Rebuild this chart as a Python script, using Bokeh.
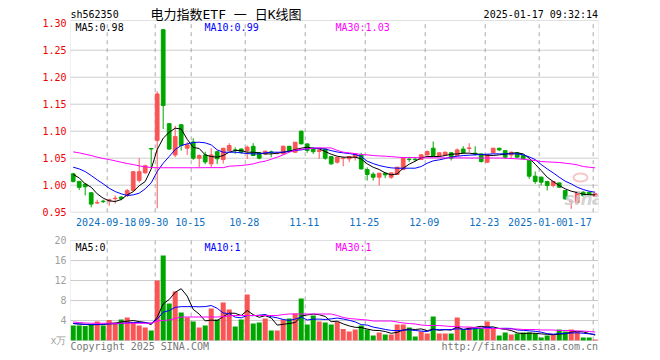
from bokeh.plotting import figure
from bokeh.layouts import column
from bokeh.models import (ColumnDataSource, FixedTicker, Label, Range1d,
                          PrintfTickFormatter, BoxAnnotation)
from bokeh.embed import file_html
from bokeh.resources import INLINE

# ---------------- data ----------------
open_ = [
    1.021, 1.007, 1.002, 0.986, 0.967, 0.9705, 0.971, 0.975, 0.978, 0.981,
    0.990, 1.009, 1.023, 1.068, 1.083, 1.288, 1.114, 1.056, 1.112, 1.0685,
    1.080, 1.050, 1.056, 1.0395, 1.062, 1.0475, 1.064, 1.0654, 1.067, 1.064,
    1.072, 1.060, 1.058, 1.0615, 1.0585, 1.058, 1.072, 1.061, 1.100, 1.0765,
    1.068, 1.0625, 1.067, 1.053, 1.0426, 1.0494, 1.0488, 1.052, 1.056, 1.029,
    1.0204, 1.0148, 1.0222, 1.0148, 1.0198, 1.029, 1.048, 1.0478, 1.0475, 1.056,
    1.0685, 1.055, 1.056, 1.060, 1.055, 1.067, 1.068, 1.0593, 1.058, 1.0426,
    1.060, 1.0685, 1.064, 1.056, 1.060, 1.055, 1.0457, 1.0167, 1.0148, 1.0068,
    0.9994, 1.0043, 0.990, 0.9694, 0.9673, 0.987, 0.987, 0.9796]
high = [
    1.023, 1.008, 1.004, 0.987, 0.973, 0.973, 0.975, 0.981, 0.980, 0.993,
    1.026, 1.050, 1.038, 1.069, 1.174, 1.289, 1.115, 1.110, 1.113, 1.0796,
    1.087, 1.057, 1.062, 1.0685, 1.064, 1.069, 1.0778, 1.070, 1.068, 1.0735,
    1.0778, 1.061, 1.0635, 1.064, 1.061, 1.073, 1.073, 1.080, 1.101, 1.077,
    1.070, 1.066, 1.068, 1.054, 1.052, 1.053, 1.054, 1.059, 1.060, 1.033,
    1.024, 1.023, 1.023, 1.0235, 1.034, 1.050, 1.0525, 1.052, 1.057, 1.0642,
    1.0809, 1.061, 1.062, 1.061, 1.068, 1.0722, 1.0778, 1.0722, 1.059, 1.057,
    1.069, 1.069, 1.065, 1.062, 1.061, 1.056, 1.046, 1.0253, 1.016, 1.008,
    1.007, 1.005, 0.991, 0.9716, 0.988, 0.989, 0.988, 0.985]
low = [
    1.005, 0.991, 0.981, 0.959, 0.965, 0.967, 0.962, 0.966, 0.972, 0.978,
    0.989, 1.005, 1.021, 1.033, 0.957, 1.104, 1.065, 1.052, 1.064, 1.056,
    1.047, 1.033, 1.039, 1.0333, 1.0395, 1.040, 1.063, 1.058, 1.058, 1.0488,
    1.054, 1.048, 1.056, 1.052, 1.057, 1.056, 1.061, 1.060, 1.076, 1.060,
    1.058, 1.0488, 1.047, 1.038, 1.040, 1.035, 1.0426, 1.0457, 1.029, 1.0086,
    1.0086, 0.9994, 1.013, 1.0117, 1.019, 1.028, 1.043, 1.044, 1.047, 1.055,
    1.054, 1.054, 1.055, 1.0457, 1.054, 1.058, 1.061, 1.055, 1.042, 1.041,
    1.059, 1.063, 1.0488, 1.0488, 1.051, 1.048, 1.0117, 1.0025, 0.9994, 0.9901,
    0.996, 0.995, 0.973, 0.9562, 0.967, 0.978, 0.980, 0.979]
close = [
    1.007, 0.996, 0.997, 0.965, 0.968, 0.9695, 0.973, 0.976, 0.975, 0.990,
    1.025, 1.025, 1.036, 1.067, 1.169, 1.1475, 1.067, 1.090, 1.0735, 1.0747,
    1.050, 1.055, 1.043, 1.056, 1.0488, 1.0685, 1.0735, 1.0648, 1.061, 1.0704,
    1.055, 1.050, 1.063, 1.061, 1.059, 1.0722, 1.0623, 1.0796, 1.0765, 1.0642,
    1.062, 1.065, 1.050, 1.0395, 1.0519, 1.050, 1.0531, 1.058, 1.0302, 1.0198,
    1.0148, 1.0222, 1.0191, 1.0228, 1.0333, 1.050, 1.0475, 1.0472, 1.0562, 1.0623,
    1.055, 1.0599, 1.0611, 1.050, 1.0654, 1.0599, 1.0691, 1.0574, 1.0438, 1.0562,
    1.0685, 1.0654, 1.0519, 1.0611, 1.0519, 1.0488, 1.0167, 1.0068, 1.0056, 0.9994,
    1.0068, 0.9963, 0.9747, 0.9698, 0.987, 0.9809, 0.982, 0.984]
ma5 = [
    1.0198, 1.0136, 1.0025, 0.9963, 0.984, 0.976, 0.971, 0.9698, 0.9735, 0.982,
    0.988, 0.999, 1.0068, 1.030, 1.066, 1.087, 1.098, 1.1056, 1.104, 1.085,
    1.070, 1.068, 1.0562, 1.0531, 1.0519, 1.055, 1.0611, 1.0642, 1.0642, 1.0611,
    1.0611, 1.0599, 1.058, 1.058, 1.0593, 1.0611, 1.063, 1.066, 1.0685, 1.0704,
    1.0685, 1.0673, 1.0623, 1.0574, 1.0537, 1.0519, 1.0519, 1.0519, 1.0488, 1.0395,
    1.0333, 1.029, 1.0228, 1.0191, 1.021, 1.0315, 1.0389, 1.0444, 1.0506, 1.0531,
    1.0531, 1.0531, 1.055, 1.0574, 1.058, 1.0593, 1.0593, 1.058, 1.0568, 1.0556,
    1.055, 1.0562, 1.0574, 1.0593, 1.0599, 1.058, 1.050, 1.0389, 1.0272, 1.0148,
    1.0068, 0.9994, 0.9932, 0.9889, 0.9864, 0.9833, 0.9821, 0.9821]
ma10 = [
    1.0333, 1.0302, 1.0253, 1.0179, 1.0099, 1.0025, 0.9944, 0.9883, 0.984, 0.9809,
    0.982, 0.9852, 0.9932, 1.0043, 1.0253, 1.0407, 1.0531, 1.066, 1.0735, 1.0765,
    1.079, 1.0796, 1.0784, 1.0747, 1.0654, 1.0611, 1.0611, 1.0611, 1.0599, 1.0586,
    1.058, 1.058, 1.0599, 1.0611, 1.0611, 1.0611, 1.0623, 1.0642, 1.0654, 1.0673,
    1.0685, 1.0685, 1.067, 1.064, 1.0615, 1.0599, 1.0586, 1.0568, 1.0531, 1.0445,
    1.040, 1.0364, 1.034, 1.0321, 1.0315, 1.0315, 1.0315, 1.0315, 1.0346, 1.0407,
    1.0451, 1.0469, 1.0494, 1.0519, 1.0537, 1.0549, 1.0556, 1.0562, 1.0568, 1.0574,
    1.058, 1.058, 1.058, 1.058, 1.058, 1.0562, 1.0525, 1.0475, 1.0383, 1.0302,
    1.0228, 1.0148, 1.0074, 1.0025, 0.9963, 0.992, 0.9889, 0.987]
ma30 = [
    1.0617, 1.0599, 1.0574, 1.055, 1.0519, 1.0494, 1.0475, 1.0451, 1.0426, 1.0401,
    1.0383, 1.0358, 1.034, 1.0327, 1.0323, 1.0323, 1.0323, 1.0323, 1.0323, 1.0323,
    1.0323, 1.0323, 1.0325, 1.0325, 1.0325, 1.0325, 1.0352, 1.0358, 1.0364, 1.0377,
    1.0395, 1.0426, 1.0444, 1.0481, 1.0519, 1.0562, 1.0611, 1.0648, 1.0667, 1.0673,
    1.0685, 1.0691, 1.0691, 1.069, 1.0645, 1.0611, 1.0599, 1.0586, 1.0568, 1.0562,
    1.0549, 1.0543, 1.0537, 1.053, 1.0519, 1.0512, 1.0512, 1.0512, 1.0506, 1.0506,
    1.0506, 1.0506, 1.0506, 1.0506, 1.0506, 1.0506, 1.0503, 1.0503, 1.0503, 1.0503,
    1.0503, 1.0503, 1.050, 1.0494, 1.0488, 1.0481, 1.0469, 1.0457, 1.0438, 1.0432,
    1.0426, 1.042, 1.0407, 1.0395, 1.0377, 1.0346, 1.0333, 1.0321]
volume = [
    3.0, 3.0, 2.9, 3.2, 3.8, 3.0, 4.1, 3.4, 4.2, 4.6,
    3.7, 3.0, 2.6, 2.0, 12.0, 17.0, 7.4, 9.8, 5.6, 4.6,
    3.8, 2.6, 3.0, 6.4, 4.2, 7.6, 6.2, 2.8, 4.2, 9.2,
    3.4, 3.6, 4.4, 2.0, 2.0, 4.2, 4.4, 5.4, 8.4, 3.2,
    5.0, 3.8, 3.6, 3.2, 3.7, 2.3, 1.8, 2.2, 3.0, 2.2,
    1.0, 1.6, 1.2, 1.2, 3.2, 3.2, 2.6, 0.8, 1.8, 1.4,
    4.8, 1.4, 1.4, 1.4, 4.6, 2.2, 2.6, 2.4, 2.4, 3.8,
    2.4, 1.0, 1.6, 1.2, 1.4, 1.6, 1.6, 1.4, 0.6, 1.0,
    1.2, 2.2, 1.8, 2.2, 1.8, 0.6, 0.6, 0.2]
vol_ma5 = [
    3.4, 3.3, 3.2, 3.15, 3.18, 3.18, 3.4, 3.5, 3.7, 3.86,
    4.0, 3.78, 3.62, 3.18, 4.66, 7.32, 8.2, 9.64, 10.36, 8.88,
    6.24, 5.28, 3.92, 4.08, 4.0, 4.76, 5.48, 5.44, 5.0, 6.0,
    5.16, 4.64, 4.96, 4.52, 3.08, 3.24, 3.4, 3.6, 4.88, 5.12,
    5.28, 5.16, 4.8, 3.76, 3.86, 3.32, 2.92, 2.64, 2.6, 2.3,
    2.04, 2.0, 1.8, 1.44, 1.64, 2.08, 2.28, 2.2, 2.32, 1.96,
    2.28, 2.04, 2.16, 2.08, 2.72, 2.2, 2.44, 2.64, 2.84, 2.68,
    2.72, 2.4, 2.24, 2.0, 1.52, 1.36, 1.48, 1.44, 1.32, 1.24,
    1.16, 1.28, 1.36, 1.68, 1.84, 1.72, 1.4, 1.08]
vol_ma10 = [
    3.4, 3.3, 3.25, 3.2, 3.2, 3.25, 3.3, 3.35, 3.4, 3.52,
    3.59, 3.59, 3.56, 3.44, 4.26, 5.66, 5.99, 6.63, 6.77, 6.77,
    6.78, 6.74, 6.78, 7.0, 6.44, 5.5, 5.38, 4.68, 4.54, 5.0,
    4.96, 5.06, 5.2, 4.76, 4.54, 4.2, 4.02, 4.28, 4.7, 4.1,
    4.26, 4.28, 4.2, 4.32, 4.49, 4.3, 4.04, 3.72, 3.18, 3.08,
    2.68, 2.46, 2.22, 2.02, 1.97, 2.06, 2.14, 2.0, 1.88, 1.8,
    2.18, 2.16, 2.18, 2.2, 2.34, 2.24, 2.24, 2.4, 2.46, 2.7,
    2.46, 2.42, 2.44, 2.42, 2.1, 2.04, 1.94, 1.84, 1.66, 1.38,
    1.26, 1.38, 1.4, 1.5, 1.54, 1.44, 1.34, 1.22]
vol_ma30 = [
    3.7, 3.6, 3.5, 3.45, 3.45, 3.45, 3.45, 3.45, 3.45, 3.45,
    3.45, 3.45, 3.45, 3.45, 3.9, 4.0, 4.1, 4.4, 4.7, 4.7,
    4.7, 4.7, 4.7, 4.7, 4.7, 4.8, 4.9, 5.0, 5.0, 5.0,
    5.0, 5.0, 5.0, 5.0, 5.0, 5.2, 5.3, 5.3, 5.3, 5.3,
    5.3, 5.3, 5.3, 5.3, 5.0, 4.6, 4.4, 4.3, 4.2, 4.1,
    3.9, 3.9, 3.9, 3.9, 3.7, 3.5, 3.4, 3.3, 3.1, 3.0,
    3.0, 3.0, 2.9, 2.8, 2.8, 2.7, 2.7, 2.6, 2.5, 2.4,
    2.4, 2.4, 2.3, 2.3, 2.3, 2.2, 2.2, 2.2, 2.1, 2.1,
    2.1, 2.0, 2.0, 2.0, 1.9, 1.9, 1.8, 1.7]

date_tick_index = [6, 14, 20, 29, 39, 49, 59, 69, 78, 87]
date_tick_labels = ["2024-09-18", "09-30", "10-15", "10-28", "11-11",
                    "11-25", "12-09", "12-23", "2025-01-06", "01-17"]
price_ticks = [0.95, 1.00, 1.05, 1.10, 1.15, 1.20, 1.25, 1.30]
price_grid = [1.00, 1.05, 1.10, 1.15, 1.20, 1.25]
vol_ticks = [0, 4, 8, 12, 16, 20]
vol_grid = [4, 8, 12, 16]

code_text = "sh562350"
title_text = "电力指数ETF 一 日K线图"
time_text = "2025-01-17 09:32:14"
price_ma_texts = ["MA5:0.98", "MA10:0.99", "MA30:1.03"]
vol_ma_texts = ["MA5:0", "MA10:1", "MA30:1"]

# ---------------- layout (page pixel geometry) ----------------
RED, GREEN = "#fa5555", "#00a600"
MA_COLORS = ["black", "#0000ff", "#ff00ff"]
MONO = "DejaVu Sans Mono"
FIG_W = 644
BOX_L, BOX_R = 70, 598          # frame box, page x
PX = 6.0                         # pixels per trading day
C0 = 72.7                        # page x of first candle centre
P_TOP, P_BOT = 20, 211.7         # price box page y
P_REF_Y, P_REF_V, PPU = 211.7, 0.95, 540.0
V_TOP, V_BOT = 240, 340          # volume box page y
VPU = 5.0
P1_H = 232
P2_H = 124


def dx(page_x):
    return (page_x - C0) / PX


def dy1(page_y):
    return P_REF_V + (P_REF_Y - page_y) / PPU


def dy2(page_y):
    return (V_BOT - page_y) / VPU


n = len(close)
xs = list(range(n))
colors = [RED if c >= o else GREEN for o, c in zip(open_, close)]
src = ColumnDataSource(dict(
    x=xs, high=high, low=low,
    top=[max(o, c) for o, c in zip(open_, close)],
    bottom=[min(o, c) for o, c in zip(open_, close)],
    color=colors, vol=volume))

xr = Range1d(dx(BOX_L), dx(BOX_R))
grid_x = [i - 1.0 / 3 for i in date_tick_index]


def base_fig(height, y0, y1):
    f = figure(width=FIG_W, height=height, x_range=xr, y_range=Range1d(y0, y1),
               output_backend="svg", toolbar_location=None, tools="",
               min_border_left=BOX_L, min_border_right=FIG_W - BOX_R,
               min_border_top=0, min_border_bottom=0)
    f.outline_line_color = None
    f.background_fill_color = "white"
    f.border_fill_color = "white"
    f.xaxis.visible = False
    f.grid.visible = False
    ax = f.yaxis[0]
    ax.axis_line_color = None
    ax.major_tick_line_color = None
    ax.minor_tick_line_color = None
    ax.major_tick_out = 0
    ax.major_tick_in = 0
    ax.major_label_standoff = 4
    ax.major_label_text_font = MONO
    ax.major_label_text_font_size = "10px"
    return f


def add_grid(f, ybot, ytop, hlines):
    f.segment(x0=grid_x, y0=[ybot] * len(grid_x), x1=grid_x, y1=[ytop] * len(grid_x),
              line_color="#a8a8a8", line_dash="4 4", line_width=1)
    f.segment(x0=[dx(BOX_L)] * len(hlines), y0=hlines, x1=[dx(BOX_R)] * len(hlines), y1=hlines,
              line_color="#9a9a9a", line_dash="1 1", line_width=1)


def add_box(f, ybot, ytop):
    f.add_layout(BoxAnnotation(left=dx(BOX_L), right=dx(BOX_R), bottom=ybot, top=ytop,
                               fill_color=None, line_color="#999999", line_width=1))


def add_text(f, x, y, text, color="black", size="10px", font=MONO, align="left", **kw):
    f.add_layout(Label(x=x, y=y, text=text, text_color=color, text_font=font,
                       text_font_size=size, text_align=align, text_baseline="middle", **kw))


# ---------------- price panel ----------------
p1 = base_fig(P1_H, dy1(P1_H), dy1(0))
p1.yaxis.ticker = FixedTicker(ticks=price_ticks)
p1.yaxis.formatter = PrintfTickFormatter(format="%.2f")
p1.yaxis.major_label_text_color = "#ee0000"
add_grid(p1, dy1(P_BOT), dy1(P_TOP), price_grid)

# faint sina watermark
p1.ellipse(x=[dx(580)], y=[dy1(177)], width=[14 / PX], height=[8 / PPU],
           fill_color=None, line_color="#f2b0b0", line_width=2, line_alpha=0.7)
add_text(p1, dx(564), dy1(198), "sina", color="#cdcdcd", size="17px",
         font="DejaVu Sans", text_font_style="bold italic", text_alpha=0.85)

p1.segment(x0="x", y0="low", x1="x", y1="high", line_color="color", line_width=1, source=src)
p1.vbar(x="x", width=0.62, top="top", bottom="bottom", fill_color="color",
        line_color="color", line_width=1, source=src)
for arr, c in zip([ma5, ma10, ma30], MA_COLORS):
    p1.line(list(range(len(arr))), arr, line_color=c, line_width=1)
add_box(p1, dy1(P_BOT), dy1(P_TOP))

for k, (gx, lab) in enumerate(zip(grid_x, date_tick_labels)):
    align, off, bg = "center", -1, None
    if k == 1:
        off = -2
    if k == len(grid_x) - 1:
        align, off, bg = "right", -1.5, "white"
    add_text(p1, gx, dy1(221), lab, color="#0a6fc2", align=align,
             x_offset=off, background_fill_color=bg)

add_text(p1, dx(70), dy1(13.5), code_text)
add_text(p1, dx(150), dy1(13.5), title_text, size="13px",
         font="DejaVu Sans Mono, Noto Sans CJK SC")
add_text(p1, dx(597.5), dy1(13.5), time_text, align="right")
for t, c, px in zip(price_ma_texts, MA_COLORS, [75, 204, 335]):
    add_text(p1, dx(px), dy1(26.5), t, color=c)

# ---------------- volume panel ----------------
p2 = base_fig(P2_H, dy2(P1_H + P2_H), dy2(P1_H))
p2.yaxis.ticker = FixedTicker(ticks=vol_ticks)
p2.yaxis.major_label_overrides = {0: "x万"}
p2.yaxis.major_label_text_color = "#a0a0a0"
add_grid(p2, dy2(V_BOT), dy2(V_TOP), vol_grid)

p2.vbar(x="x", width=0.84, top="vol", bottom=0, fill_color="color", line_color=None, source=src)
for arr, c in zip([vol_ma5, vol_ma10, vol_ma30], MA_COLORS):
    p2.line(list(range(len(arr))), arr, line_color=c, line_width=1)
add_box(p2, dy2(V_BOT), dy2(V_TOP))

for t, c, px in zip(vol_ma_texts, MA_COLORS, [75, 204, 335]):
    add_text(p2, dx(px), dy2(246.5), t, color=c)
add_text(p2, dx(70), dy2(346), "Copyright 2025 SINA.COM", color="#777777")
add_text(p2, dx(597.5), dy2(346), "http://finance.sina.com.cn", color="#777777", align="right")

layout = column(p1, p2)
open("out.html", "w").write(file_html(layout, INLINE))
